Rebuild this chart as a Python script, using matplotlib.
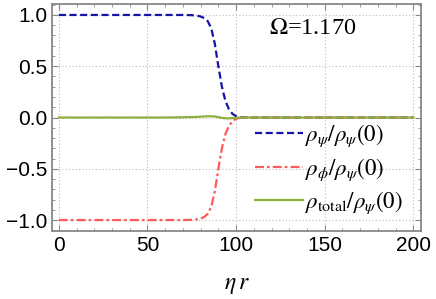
import matplotlib.pyplot as plt
from matplotlib.ticker import MultipleLocator

# values
r = [0, 20, 40, 60, 70, 75, 78, 80, 82, 84, 86, 88, 90, 92, 94, 96, 98, 100, 102, 105, 110, 150, 200]
rho_psi = [1.0, 1.0, 1.0, 1.0, 1.0, 0.998, 0.993, 0.985, 0.97, 0.94, 0.87, 0.72, 0.5, 0.3, 0.16, 0.08,
           0.035, 0.013, 0.004, 0.0, 0.0, 0.0, 0.0]
rho_phi = [-1.0, -1.0, -1.0, -1.0, -1.0, -0.998, -0.993, -0.985, -0.97, -0.94, -0.87, -0.72, -0.5, -0.3,
           -0.16, -0.08, -0.035, -0.013, -0.004, 0.0, 0.0, 0.0, 0.0]
rho_total = [0.0, 0.0, 0.0, 0.0, 0.002, 0.004, 0.006, 0.008, 0.01, 0.012, 0.012, 0.01, 0.004, -0.004,
             -0.008, -0.008, -0.006, -0.003, -0.001, 0.0, 0.0, 0.0, 0.0]
omega_label = r'$\Omega$=1.170'

plt.rcParams['mathtext.fontset'] = 'stix'

fig = plt.figure(figsize=(4.36, 2.99), dpi=100)
ax = fig.add_axes([0.119, 0.227, 0.847, 0.76])

ax.plot(r, rho_psi, color='#1414a8', lw=1.6, ls=(0, (3.2, 1.6)), label=r'$\rho_\psi/\rho_\psi(0)$')
ax.plot(r, rho_phi, color='#ff5a5a', lw=1.6, ls=(0, (4, 1.4, 1.2, 1.4)), label=r'$\rho_\phi/\rho_\psi(0)$')
ax.plot(r, rho_total, color='#8db03c', lw=1.6, label=r'$\rho_{\rm total}/\rho_\psi(0)$')

ax.set_xlim(-3.9, 204.4)
ax.set_ylim(-1.108, 1.108)
ax.xaxis.set_major_locator(MultipleLocator(50))
ax.xaxis.set_minor_locator(MultipleLocator(10))
ax.yaxis.set_major_locator(MultipleLocator(0.5))
ax.yaxis.set_minor_locator(MultipleLocator(0.1))
ax.grid(True, which='major', color='#bbbbbb', ls=(0, (1, 2)), lw=0.8)

for s in ax.spines.values():
    s.set_color('#888888')
    s.set_linewidth(1.3)
ax.tick_params(which='both', direction='in', top=True, right=True, color='#888888',
               labelsize=15, labelcolor='black')
ax.tick_params(which='major', length=4)
ax.tick_params(which='minor', length=2.5)
for lab in ax.get_xticklabels() + ax.get_yticklabels():
    lab.set_family('Liberation Sans')
ax.set_yticks([-1.0, -0.5, 0.0, 0.5, 1.0])
ax.set_yticklabels(['\u22121.0', '\u22120.5', '0.0', '0.5', '1.0'], family='Liberation Sans')

ax.set_xlabel(r'$\eta\, r$', fontsize=17, labelpad=12)
ax.text(143, 0.87, omega_label, fontsize=17.5, family='Liberation Serif', ha='center', va='center')

ax.legend(loc='lower right', bbox_to_anchor=(1.006, -0.024), frameon=False, fontsize=16.5,
          handlelength=2.1, handletextpad=0.1, labelspacing=0.3)

fig.savefig('out.png', dpi=100)
